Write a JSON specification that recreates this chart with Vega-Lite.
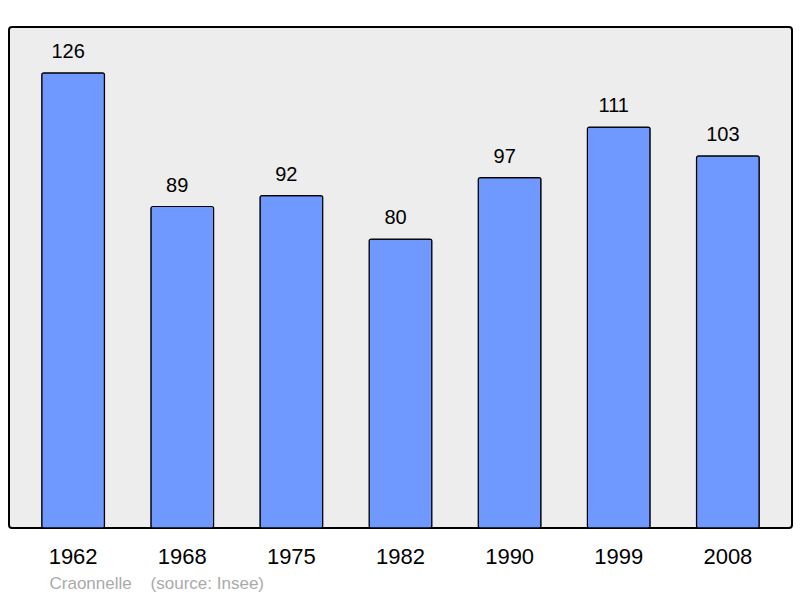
{
  "$schema": "https://vega.github.io/schema/vega-lite/v6.json",
  "width": 783,
  "height": 501,
  "autosize": {"type": "none"},
  "padding": {"left": 9, "top": 27, "right": 8, "bottom": 70},
  "background": "#ffffff",
  "config": {
    "view": {"fill": "#ededed", "stroke": "#000000", "strokeWidth": 2, "cornerRadius": 3},
    "font": "Liberation Sans"
  },
  "data": {
    "values": [
      {"year": "1962", "pop": 126},
      {"year": "1968", "pop": 89},
      {"year": "1975", "pop": 92},
      {"year": "1982", "pop": 80},
      {"year": "1990", "pop": 97},
      {"year": "1999", "pop": 111},
      {"year": "2008", "pop": 103}
    ]
  },
  "encoding": {
    "x": {
      "field": "year",
      "type": "ordinal",
      "sort": null,
      "scale": {"paddingInner": 0.425, "paddingOuter": 0.3},
      "axis": {
        "title": "Craonnelle\u00a0\u00a0\u00a0 (source: Insee)",
        "titleFont": "Liberation Sans",
        "titleFontSize": 17,
        "titleFontWeight": "normal",
        "titleColor": "#aaaaaa",
        "titleAnchor": "start",
        "titleAlign": "left",
        "titleBaseline": "middle",
        "titleX": 40,
        "titleY": 55,
        "labelAngle": 0,
        "labelFontSize": 22,
        "labelColor": "#000000",
        "labelPadding": 18,
        "ticks": false,
        "domain": false
      }
    },
    "y": {
      "field": "pop",
      "type": "quantitative",
      "scale": {"domain": [0, 138.7], "nice": false, "zero": true},
      "axis": null
    }
  },
  "layer": [
    {
      "mark": {"type": "bar", "color": "#7099ff", "stroke": "#000000", "strokeWidth": 1.2, "cornerRadius": 2}
    },
    {
      "mark": {"type": "text", "baseline": "bottom", "dy": -11, "dx": -5, "fontSize": 20, "color": "#000000", "font": "Liberation Sans"},
      "encoding": {"text": {"field": "pop", "type": "quantitative"}}
    }
  ]
}
